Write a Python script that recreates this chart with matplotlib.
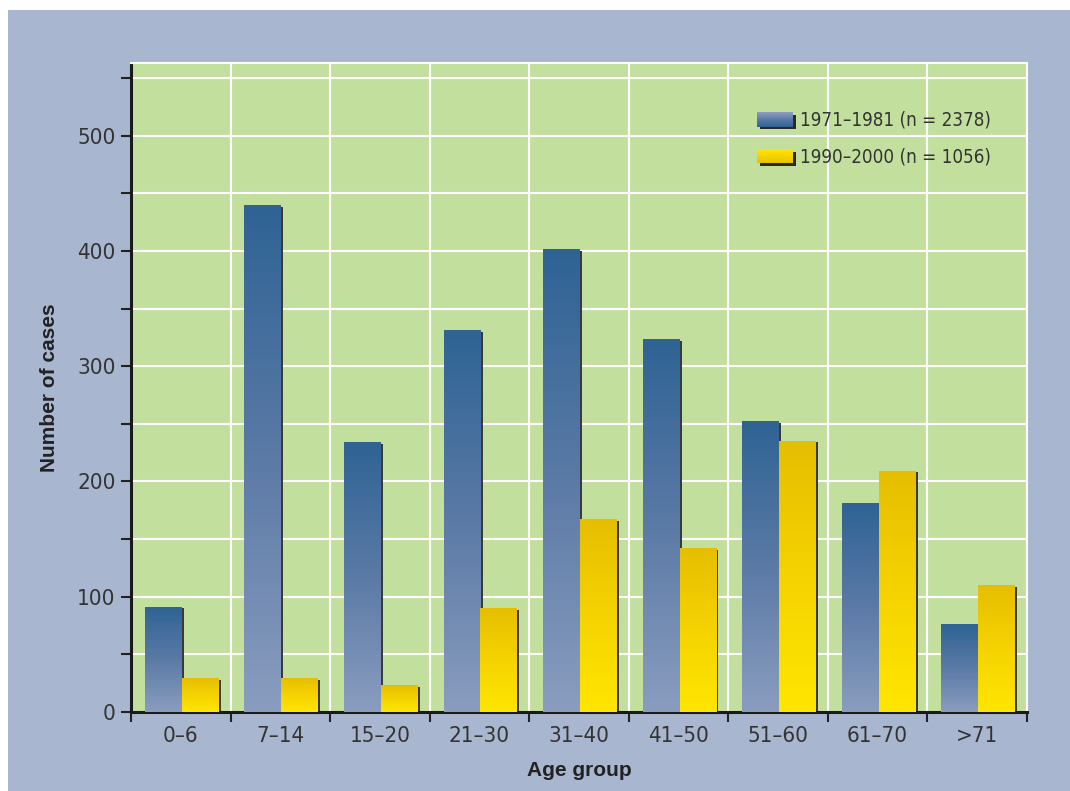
import numpy as np
import matplotlib
matplotlib.use("Agg")
import matplotlib.pyplot as plt
from matplotlib import font_manager as fm
from matplotlib.patches import Rectangle
from matplotlib.legend_handler import HandlerBase
import matplotlib.transforms as mtransforms
from matplotlib.colors import LinearSegmentedColormap

# ---- data ----
categories = ["0–6", "7–14", "15–20", "21–30", "31–40", "41–50", "51–60", "61–70", ">71"]
series_1971 = [91, 439, 234, 331, 401, 323, 252, 181, 76]
series_1990 = [29, 29, 23, 90, 167, 142, 235, 209, 110]
series_labels = ["1971–1981 (n = 2378)", "1990–2000 (n = 1056)"]
y_major = [0, 100, 200, 300, 400, 500]

# pick a condensed font if one is installed
cond = None
for f in fm.fontManager.ttflist:
    if f.style == 'normal' and f.weight in (400, 'normal', 'regular') and (
            'Narrow' in f.name or 'Condensed' in f.name or f.stretch in ('condensed', 'semi-condensed')):
        if f.name.startswith(('Liberation', 'DejaVu', 'Roboto', 'Noto', 'Open')):
            cond = f.fname
            break


def fp(size):
    if cond:
        return fm.FontProperties(fname=cond, size=size)
    return fm.FontProperties(family=['Roboto', 'DejaVu Sans'], size=size)


plt.rcParams['font.family'] = ['Roboto', 'DejaVu Sans']

BG = '#A9B6CF'
GREEN = '#C3DF9D'
blue_cmap = LinearSegmentedColormap.from_list('b', ['#8A9DBF', '#5B7AA6', '#2E6394'])
yel_cmap = LinearSegmentedColormap.from_list('y', ['#FFE600', '#F5D300', '#E6BE00'])

fig = plt.figure(figsize=(10.7, 7.91), dpi=100)
fig.patch.set_facecolor('white')
fig.patches.append(Rectangle((8 / 1070, 0), 1 - 8 / 1070, 1 - 10 / 791,
                             transform=fig.transFigure, facecolor=BG,
                             edgecolor='none', zorder=-10))

ax = fig.add_axes([131 / 1070, 1 - 712 / 791, (1027 - 131) / 1070, (712 - 63) / 791])
ax.set_facecolor(GREEN)

grad = np.linspace(0, 1, 256).reshape(-1, 1)
width = 0.37
off = 0.01
shadow_tr = ax.transData + mtransforms.ScaledTranslation(1.5 / 72, -1.0 / 72, fig.dpi_scale_trans)

x = np.arange(len(categories))
for i, (b, yv) in enumerate(zip(series_1971, series_1990)):
    for x0, h, cmap in ((i - width + off, b, blue_cmap), (i + off, yv, yel_cmap)):
        ax.add_patch(Rectangle((x0, 0), width, h, facecolor='#3a3a3a',
                               edgecolor='none', transform=shadow_tr, zorder=2))
        ax.imshow(grad, extent=(x0, x0 + width, 0, h), origin='lower',
                  cmap=cmap, aspect='auto', zorder=3, interpolation='bicubic')

ax.set_xlim(-0.5, len(categories) - 0.5)
ax.set_ylim(0, 563)

# grid / ticks
ax.set_yticks(y_major)
ax.set_yticklabels([str(v) for v in y_major], fontproperties=fp(16))
ax.set_yticks(np.arange(50, 563, 100), minor=True)
ax.set_xticks(np.arange(-0.5, len(categories), 1.0))
ax.set_xticklabels([])
ax.set_xticks(x, minor=True)
ax.set_xticklabels(categories, minor=True, fontproperties=fp(16))
ax.grid(True, which='major', color='white', linewidth=1.5, zorder=1)
ax.grid(True, axis='y', which='minor', color='white', linewidth=1.5, zorder=1)
ax.set_axisbelow(True)

ax.tick_params(axis='x', which='major', length=7, width=1.5, color='#222222', direction='out')
ax.tick_params(axis='x', which='minor', length=0, labelcolor='#333333', pad=10)
ax.tick_params(axis='y', which='both', length=7, width=1.5, color='#222222', direction='out',
               labelcolor='#333333', pad=4)

for s in ('left', 'bottom'):
    ax.spines[s].set_color('#1a1a1a')
    ax.spines[s].set_linewidth(2.2)
for s in ('top', 'right'):
    ax.spines[s].set_color('white')
    ax.spines[s].set_linewidth(1.5)

ax.set_xlabel('Age group', fontsize=15, fontweight='bold', color='#222222', labelpad=11,
              family=['Liberation Sans', 'DejaVu Sans'])
ax.set_ylabel('Number of cases', fontsize=15, fontweight='bold', color='#222222', labelpad=13,
              family=['Liberation Sans', 'DejaVu Sans'])


class GradHandler(HandlerBase):
    def __init__(self, cmap):
        super().__init__()
        self.cmap = cmap

    def create_artists(self, legend, orig_handle, xdescent, ydescent, width, height, fontsize, trans):
        arts = []
        arts.append(Rectangle((-xdescent + 2, -ydescent - 2), width, height,
                              facecolor='#2a2a2a', edgecolor='none', transform=trans))
        n = 20
        for k in range(n):
            c = self.cmap(1 - (k + 0.5) / n)
            arts.append(Rectangle((-xdescent, -ydescent + height * k / n), width, height / n + 0.3,
                                  facecolor=c, edgecolor='none', transform=trans))
        return arts


h1 = Rectangle((0, 0), 1, 1)
h2 = Rectangle((0, 0), 1, 1)
leg = ax.legend([h1, h2], series_labels, handler_map={h1: GradHandler(blue_cmap), h2: GradHandler(yel_cmap)},
                loc='upper left', bbox_to_anchor=((757 - 131) / 896, (712 - 111) / 649), frameon=False,
                prop=fp(13.5), handlelength=1.92, handleheight=0.8, labelspacing=0.95,
                handletextpad=0.37, borderpad=0, borderaxespad=0)
for t in leg.get_texts():
    t.set_color('#333333')

fig.savefig('out.png', dpi=100, facecolor=fig.get_facecolor())
